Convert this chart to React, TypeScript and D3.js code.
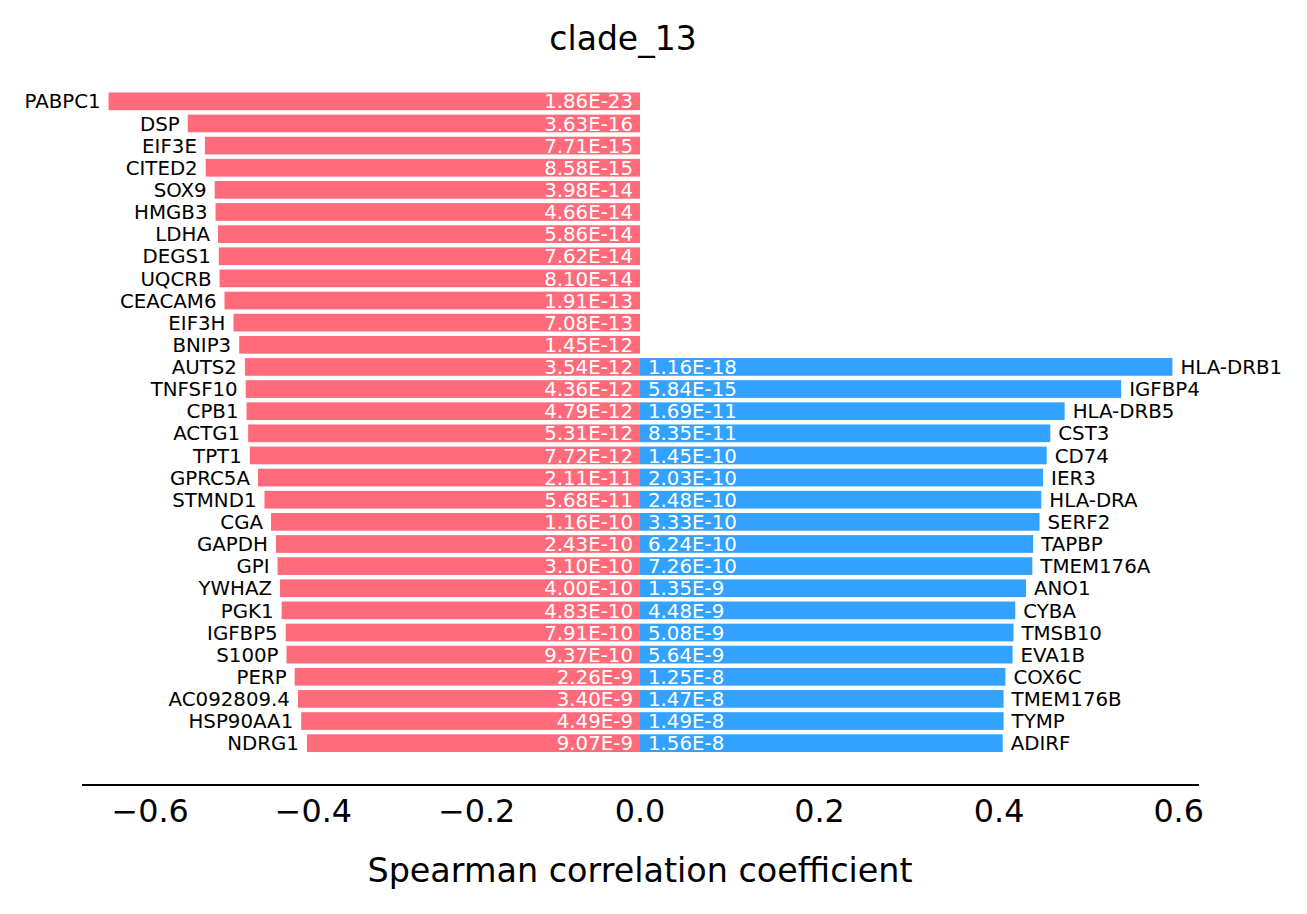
import * as d3 from "d3";

const leftGenes = [
  "PABPC1", "DSP", "EIF3E", "CITED2", "SOX9", "HMGB3", "LDHA", "DEGS1", "UQCRB", "CEACAM6",
  "EIF3H", "BNIP3", "AUTS2", "TNFSF10", "CPB1", "ACTG1", "TPT1", "GPRC5A", "STMND1", "CGA",
  "GAPDH", "GPI", "YWHAZ", "PGK1", "IGFBP5", "S100P", "PERP", "AC092809.4", "HSP90AA1", "NDRG1",
];
const leftRho = [
  -0.651, -0.554, -0.533, -0.532, -0.521, -0.52, -0.517, -0.516, -0.515, -0.509,
  -0.498, -0.491, -0.484, -0.483, -0.482, -0.48, -0.478, -0.468, -0.46, -0.452,
  -0.446, -0.444, -0.441, -0.439, -0.434, -0.433, -0.423, -0.419, -0.415, -0.408,
];
const leftP = [
  "1.86E-23", "3.63E-16", "7.71E-15", "8.58E-15", "3.98E-14", "4.66E-14", "5.86E-14", "7.62E-14", "8.10E-14", "1.91E-13",
  "7.08E-13", "1.45E-12", "3.54E-12", "4.36E-12", "4.79E-12", "5.31E-12", "7.72E-12", "2.11E-11", "5.68E-11", "1.16E-10",
  "2.43E-10", "3.10E-10", "4.00E-10", "4.83E-10", "7.91E-10", "9.37E-10", "2.26E-9", "3.40E-9", "4.49E-9", "9.07E-9",
];

const rightGenes = [
  "HLA-DRB1", "IGFBP4", "HLA-DRB5", "CST3", "CD74", "IER3", "HLA-DRA", "SERF2", "TAPBP",
  "TMEM176A", "ANO1", "CYBA", "TMSB10", "EVA1B", "COX6C", "TMEM176B", "TYMP", "ADIRF",
];
const rightRho = [
  0.593, 0.536, 0.473, 0.457, 0.453, 0.449, 0.447, 0.445, 0.438,
  0.437, 0.43, 0.418, 0.416, 0.415, 0.407, 0.405, 0.405, 0.404,
];
const rightP = [
  "1.16E-18", "5.84E-15", "1.69E-11", "8.35E-11", "1.45E-10", "2.03E-10", "2.48E-10", "3.33E-10", "6.24E-10",
  "7.26E-10", "1.35E-9", "4.48E-9", "5.08E-9", "5.64E-9", "1.25E-8", "1.47E-8", "1.49E-8", "1.56E-8",
];

const leftTicks = [-0.6, -0.4, -0.2];
const rightTicks = [0, 0.2, 0.4, 0.6];

const title = "clade_13";
const xLabel = "Spearman correlation coefficient";

const width = 1307;
const height = 914;
const left = 82;
const mid = 640;
const right = 1199;
const top = 59.5;
const bottom = 785;
const font = "DejaVu Sans, Verdana, sans-serif";
const small = 19.8;

export default function App() {
  const n = leftGenes.length;
  // matplotlib-like margins: bars are 0.8 tall, 5% padding
  const pad = 0.05 * (n - 1 + 0.8) + 0.4;
  const y = d3.scaleLinear().domain([-pad, n - 1 + pad]).range([top, bottom]);
  const barH = y(0.4) - y(-0.4);

  const xL = d3
    .scaleLinear()
    .domain([-1.05 * (d3.max(leftRho, (d) => -d) as number), 0])
    .range([left, mid]);
  const xR = d3
    .scaleLinear()
    .domain([0, 1.05 * (d3.max(rightRho) as number)])
    .range([mid, right]);

  const offset = n - rightGenes.length;
  const fmt = (v: number) => d3.format(".1f")(v).replace("-", "\u2212");

  return (
    <svg
      width={width}
      height={height}
      style={{ position: "absolute", left: 0, top: 0, background: "white" }}
      fontFamily={font}
    >
      <text x={623} y={50} textAnchor="middle" fontSize={33} fill="black">
        {title}
      </text>

      <g>
        {leftRho.map((d, i) => (
          <g key={leftGenes[i]}>
            <rect
              x={xL(d)}
              y={y(i) - barH / 2}
              width={xL(0) - xL(d)}
              height={barH}
              fill="#ff6b7a"
            />
            <text
              x={xL(d) - 8}
              y={y(i)}
              dy="0.36em"
              textAnchor="end"
              fontSize={small}
              fill="black"
            >
              {leftGenes[i]}
            </text>
            <text
              x={xL(0) - 7}
              y={y(i)}
              dy="0.36em"
              textAnchor="end"
              fontSize={small}
              fill="white"
            >
              {leftP[i]}
            </text>
          </g>
        ))}
      </g>

      <g>
        {rightRho.map((d, i) => (
          <g key={rightGenes[i]}>
            <rect
              x={xR(0)}
              y={y(i + offset) - barH / 2}
              width={xR(d) - xR(0)}
              height={barH}
              fill="#33a2ff"
            />
            <text
              x={xR(d) + 8}
              y={y(i + offset)}
              dy="0.36em"
              textAnchor="start"
              fontSize={small}
              fill="black"
            >
              {rightGenes[i]}
            </text>
            <text
              x={xR(0) + 8}
              y={y(i + offset)}
              dy="0.36em"
              textAnchor="start"
              fontSize={small}
              fill="white"
            >
              {rightP[i]}
            </text>
          </g>
        ))}
      </g>

      <line x1={left} x2={right} y1={bottom} y2={bottom} stroke="black" strokeWidth={2} />

      <g fontSize={31.8} fill="black" textAnchor="middle">
        {leftTicks.map((t) => (
          <text key={t} x={xL(t)} y={822}>
            {fmt(t)}
          </text>
        ))}
        {rightTicks.map((t) => (
          <text key={t} x={xR(t)} y={822}>
            {fmt(t)}
          </text>
        ))}
      </g>

      <text x={mid} y={882} textAnchor="middle" fontSize={33.4} fill="black">
        {xLabel}
      </text>
    </svg>
  );
}
